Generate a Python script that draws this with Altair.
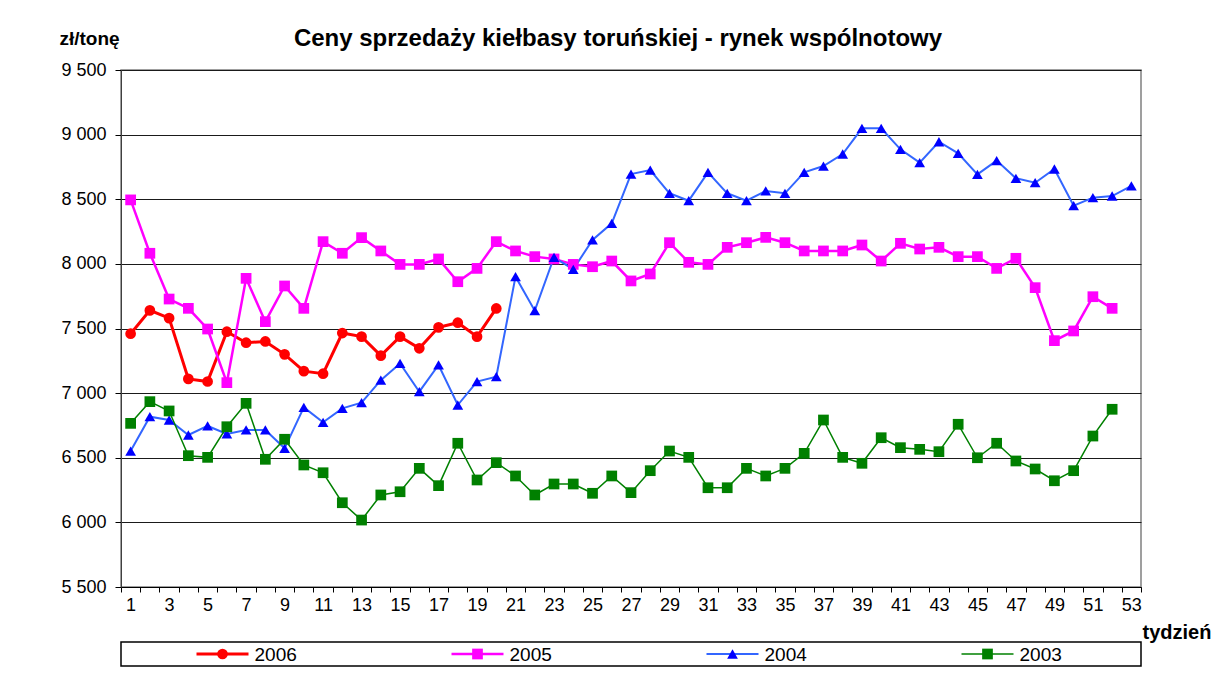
import altair as alt
import pandas as pd

# ---------------- data ----------------
series_names = ["2006", "2005", "2004", "2003"]

price_2006 = [7460, 7640, 7580, 7110, 7090, 7475, 7390, 7400, 7300, 7170,
              7150, 7465, 7437, 7290, 7437, 7347, 7509, 7545, 7437, 7655]

price_2005 = [8495, 8082, 7728, 7656, 7496, 7081, 7888, 7553, 7829, 7656,
              8172, 8082, 8203, 8100, 7996, 7996, 8038, 7862, 7965, 8172,
              8100, 8056, 8038, 7996, 7978, 8022, 7868, 7922, 8164, 8012,
              7996, 8128, 8164, 8205, 8164, 8100, 8100, 8100, 8146, 8022,
              8159, 8115, 8128, 8056, 8056, 7965, 8043, 7816, 7406, 7481,
              7746, 7656]

price_2004 = [6552, 6818, 6792, 6676, 6746, 6684, 6715, 6715, 6573, 6890,
              6774, 6882, 6926, 7100, 7230, 7011, 7218, 6908, 7089, 7127,
              7901, 7638, 8051, 7958, 8185, 8314, 8695, 8726, 8546, 8489,
              8708, 8546, 8489, 8564, 8546, 8708, 8757, 8850, 9049, 9049,
              8886, 8783, 8945, 8855, 8693, 8799, 8662, 8628, 8734, 8450,
              8512, 8525, 8603]

price_2003 = [6766, 6934, 6862, 6516, 6503, 6740, 6921, 6488, 6643, 6444,
              6384, 6152, 6018, 6212, 6237, 6418, 6284, 6612, 6328, 6462,
              6359, 6212, 6297, 6297, 6225, 6359, 6230, 6400, 6552, 6503,
              6268, 6268, 6418, 6359, 6418, 6534, 6792, 6503, 6457, 6655,
              6578, 6565, 6547, 6759, 6500, 6612, 6475, 6413, 6322, 6400,
              6668, 6875]

y_ticks = [5500, 6000, 6500, 7000, 7500, 8000, 8500, 9000, 9500]
n_weeks = 53

# ---------------- styles ----------------
line_colors = ["#FF0000", "#FF00FF", "#3366FF", "#008000"]
marker_colors = ["#FF0000", "#FF00FF", "#0000FF", "#008000"]
marker_shapes = ["circle", "square", "triangle-up", "square"]
marker_sizes = [115, 115, 155, 105]
line_widths = [3, 1.5, 1.5, 1.5]

FONT = "Liberation Sans"
W, H = 1020, 517
half_step = W / n_weeks / 2

rows = []
for name, vals in zip(series_names, [price_2006, price_2005, price_2004, price_2003]):
    for i, v in enumerate(vals):
        rows.append({"series": name, "week": i + 1, "price": v})
df = pd.DataFrame(rows)

x_enc = alt.X(
    "week:Q",
    scale=alt.Scale(domain=[0.5, n_weeks + 0.5], nice=False, zero=False),
    axis=alt.Axis(
        values=[k + 0.5 for k in range(0, n_weeks + 1)],
        labelExpr="(datum.value + 0.5) % 2 == 1 ? format(datum.value + 0.5, 'd') : ''",
        labelOffset=half_step,
        labelFlush=False,
        labelOverlap=False,
        labelBound=False,
        grid=False,
        tickSize=5,
        tickColor="#000000",
        domainColor="#000000",
        labelFontSize=18,
        labelColor="#000000",
        labelPadding=4,
        title="tydzień",
        titleX=W + 1,
        titleY=45,
        titleAlign="left",
        titleBaseline="middle",
        titleFontSize=20,
        titleFontWeight="bold",
        titleColor="#000000",
    ),
)

y_enc = alt.Y(
    "price:Q",
    scale=alt.Scale(domain=[5500, 9500], nice=False, zero=False),
    axis=alt.Axis(
        values=y_ticks,
        labelExpr="replace(format(datum.value, ','), ',', ' ')",
        grid=True,
        gridColor="#1a1a1a",
        gridWidth=1,
        tickSize=6,
        tickColor="#000000",
        domainColor="#404040",
        labelFontSize=18,
        labelColor="#000000",
        labelPadding=9,
        title="zł/tonę",
        titleAngle=0,
        titleX=-32,
        titleY=-32,
        titleAlign="center",
        titleBaseline="middle",
        titleFontSize=19,
        titleFontWeight="bold",
        titleColor="#000000",
    ),
)

lines = alt.Chart(df).mark_line().encode(
    x=x_enc,
    y=y_enc,
    color=alt.Color("series:N", scale=alt.Scale(domain=series_names, range=line_colors), legend=None),
    strokeWidth=alt.StrokeWidth("series:N", scale=alt.Scale(domain=series_names, range=line_widths), legend=None),
    order=alt.Order("week:Q"),
)

points = alt.Chart(df).mark_point(filled=True, opacity=1).encode(
    x=x_enc,
    y=y_enc,
    fill=alt.Fill("series:N", scale=alt.Scale(domain=series_names, range=marker_colors), legend=None),
    shape=alt.Shape("series:N", scale=alt.Scale(domain=series_names, range=marker_shapes), legend=None),
    size=alt.Size("series:N", scale=alt.Scale(domain=series_names, range=marker_sizes), legend=None),
)

main = alt.layer(lines, points).properties(
    width=W,
    height=H,
    title=alt.TitleParams(
        text="Ceny sprzedaży kiełbasy toruńskiej - rynek wspólnotowy",
        fontSize=24,
        fontWeight="bold",
        anchor="middle",
        dx=-13,
        dy=26,
        color="#000000",
    ),
    view=alt.ViewBackground(stroke="#808080", strokeWidth=1.5),
)

# ---------------- custom legend ----------------
leg_df = pd.DataFrame({"series": series_names, "idx": list(range(len(series_names)))})
LEG_H = 24
leg_x = alt.X("idx:Q", scale=alt.Scale(domain=[-0.5, len(series_names) - 0.5], nice=False, zero=False), axis=None)

leg_rules = alt.Chart(leg_df).mark_rule(xOffset=-52, x2Offset=0).encode(
    x=leg_x,
    x2="idx:Q",
    y=alt.value(LEG_H / 2),
    color=alt.Color("series:N", scale=alt.Scale(domain=series_names, range=line_colors), legend=None),
    strokeWidth=alt.StrokeWidth("series:N", scale=alt.Scale(domain=series_names, range=line_widths), legend=None),
)
leg_points = alt.Chart(leg_df).mark_point(filled=True, opacity=1, xOffset=-26).encode(
    x=leg_x,
    y=alt.value(LEG_H / 2),
    fill=alt.Fill("series:N", scale=alt.Scale(domain=series_names, range=marker_colors), legend=None),
    shape=alt.Shape("series:N", scale=alt.Scale(domain=series_names, range=marker_shapes), legend=None),
    size=alt.Size("series:N", scale=alt.Scale(domain=series_names, range=marker_sizes), legend=None),
)
leg_text = alt.Chart(leg_df).mark_text(align="left", baseline="middle", dx=6, fontSize=19, color="#000000").encode(
    x=leg_x,
    y=alt.value(LEG_H / 2 + 1),
    text="series:N",
)
legend = alt.layer(leg_rules, leg_points, leg_text).properties(
    width=W,
    height=LEG_H,
    view=alt.ViewBackground(stroke="#000000", strokeWidth=1.5),
)

chart = (
    alt.vconcat(main, legend, spacing=55, bounds="flush")
    .resolve_scale(x="independent", y="independent")
    .properties(padding={"left": 50, "top": 18, "right": 3, "bottom": 0}, background="white")
    .configure(font=FONT)
)

chart.save("out.html", embed_options={"renderer": "svg", "actions": False})
